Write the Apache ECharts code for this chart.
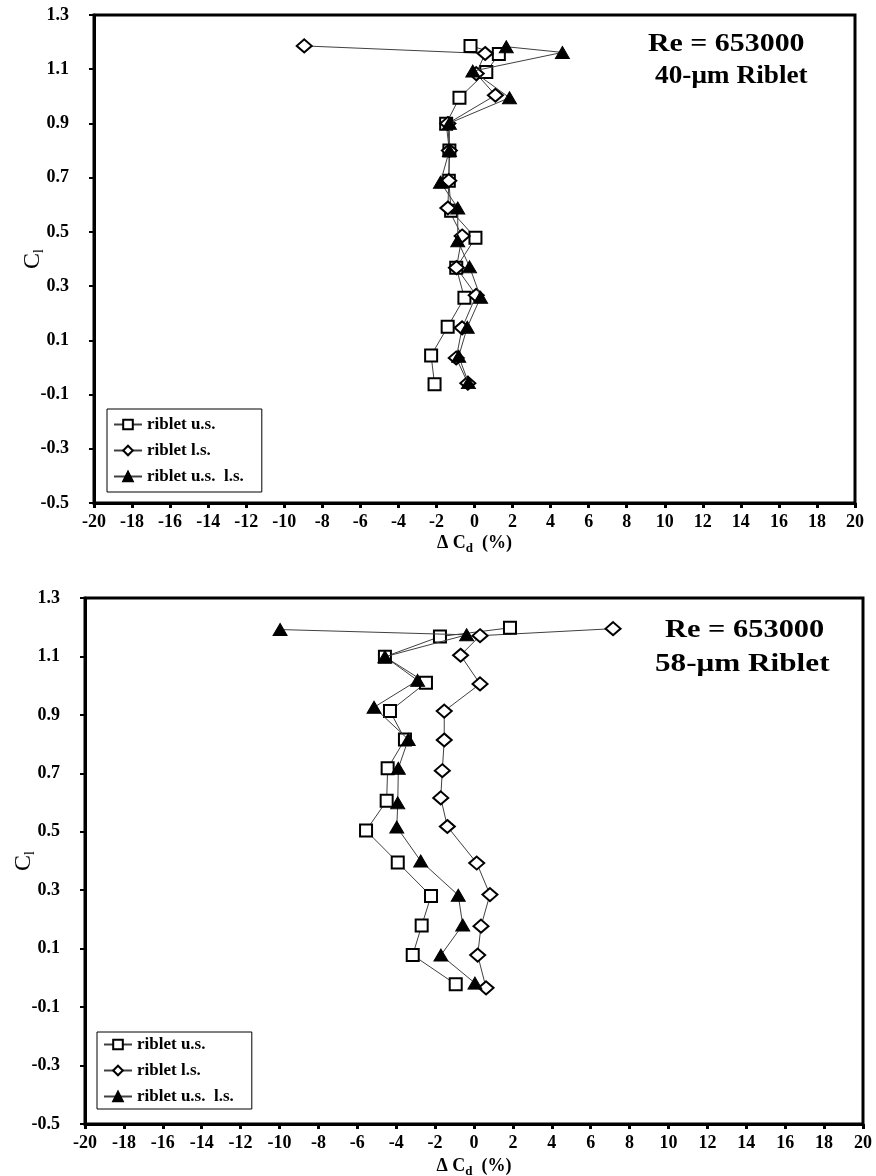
<!DOCTYPE html>
<html>
<head>
<meta charset="utf-8">
<script src="https://cdn.jsdelivr.net/npm/echarts@6/dist/echarts.min.js"></script>
<style>
html,body{margin:0;padding:0;background:#fff;}
#c{width:876px;height:1176px;}
</style>
</head>
<body>
<div id="c"></div>
<script>
// ---- data (ΔCd %, Cl) ----
var seriesNames = ['riblet u.s.', 'riblet l.s.', 'riblet u.s.  l.s.'];
var xTicks = [-20,-18,-16,-14,-12,-10,-8,-6,-4,-2,0,2,4,6,8,10,12,14,16,18,20];
var yTicks = [-0.5,-0.3,-0.1,0.1,0.3,0.5,0.7,0.9,1.1,1.3];

// 40-um riblet
var top_us = [[-0.21,1.186],[1.28,1.156],[0.62,1.09],[-0.79,0.995],[-1.49,0.899],[-1.32,0.80],[-1.35,0.689],[-1.23,0.578],[0.05,0.478],[-0.96,0.368],[-0.53,0.257],[-1.41,0.15],[-2.28,0.044],[-2.1,-0.062]];
var top_ls = [[-8.95,1.186],[0.56,1.158],[0.09,1.084],[1.1,1.004],[-1.4,0.9],[-1.32,0.8],[-1.35,0.689],[-1.4,0.588],[-0.65,0.485],[-0.95,0.368],[0.09,0.266],[-0.65,0.146],[-0.96,0.035],[-0.35,-0.058]];
var top_usls = [[1.67,1.183],[4.62,1.162],[-0.09,1.093],[1.84,0.995],[-1.32,0.901],[-1.32,0.80],[-1.79,0.683],[-0.88,0.588],[-0.88,0.467],[-0.26,0.371],[0.32,0.259],[-0.38,0.148],[-0.83,0.041],[-0.32,-0.056]];

// 58-um riblet
var bot_us = [[1.85,1.198],[-1.75,1.168],[-4.58,1.099],[-2.47,1.01],[-4.32,0.913],[-3.55,0.816],[-4.44,0.717],[-4.49,0.606],[-5.55,0.504],[-3.92,0.395],[-2.21,0.28],[-2.69,0.179],[-3.15,0.078],[-0.94,-0.022]];
var bot_ls = [[7.15,1.195],[0.31,1.171],[-0.69,1.104],[0.31,1.006],[-1.53,0.913],[-1.53,0.814],[-1.63,0.709],[-1.71,0.616],[-1.37,0.518],[0.14,0.393],[0.82,0.285],[0.36,0.177],[0.19,0.078],[0.62,-0.034]];
var bot_usls = [[-9.97,1.192],[-0.38,1.174],[-4.58,1.099],[-2.9,1.018],[-5.14,0.926],[-3.38,0.816],[-3.89,0.717],[-3.92,0.599],[-3.97,0.516],[-2.74,0.4],[-0.81,0.283],[-0.58,0.181],[-1.7,0.078],[0.05,-0.018]];

var titles = [['Re = 653000','40-\u03bcm Riblet'],['Re = 653000','58-\u03bcm Riblet']];

// ---- styling ----
var FONT = "'Liberation Serif','Times New Roman',serif";
var chart = echarts.init(document.getElementById('c'), null, {renderer:'canvas'});

function xAxisCfg(gi, gap){
  return {
    type:'value', gridIndex:gi, min:xTicks[0], max:xTicks[xTicks.length-1], interval:2,
    axisLine:{show:true, onZero:false, lineStyle:{color:'#000', width:3}},
    axisTick:{show:true, inside:false, length:5, lineStyle:{color:'#000', width:3}},
    axisLabel:{color:'#000', fontFamily:FONT, fontWeight:'bold', fontSize:18, margin:10},
    splitLine:{show:false},
    name:'{a|\u0394 C}{s|d}{a|  (%)}', nameLocation:'middle', nameGap:gap, nameMoveOverlap:false,
    nameTextStyle:{rich:{
      a:{fontFamily:FONT, fontWeight:'bold', fontSize:18, color:'#000'},
      s:{fontFamily:FONT, fontWeight:'bold', fontSize:13, color:'#000', padding:[10,0,0,0]}
    }}
  };
}
function yAxisCfg(gi, gap){
  return {
    type:'value', gridIndex:gi, min:yTicks[0], max:yTicks[yTicks.length-1], interval:0.2,
    axisLine:{show:true, onZero:false, lineStyle:{color:'#000', width:3}},
    axisTick:{show:true, inside:false, length:5, lineStyle:{color:'#000', width:2}},
    axisLabel:{color:'#000', fontFamily:FONT, fontWeight:'bold', fontSize:18, margin:25,
      formatter:function(v){return (Math.round(v*10)/10).toFixed(1);}},
    splitLine:{show:false},
    name:'{a|C}{s|l}', nameLocation:'middle', nameGap:gap, nameRotate:90, nameMoveOverlap:false,
    nameTextStyle:{rich:{
      a:{fontFamily:FONT, fontSize:24, color:'#000'},
      s:{fontFamily:FONT, fontSize:14, color:'#000', padding:[12,0,0,0]}
    }}
  };
}
function mk(name, data, gi, sym){
  var hollow = sym !== 'triangle';
  var size = sym==='rect'?12:(sym==='diamond'?[15,13]:[14,12]);
  return {
    name:name, type:'line', xAxisIndex:gi, yAxisIndex:gi, data:data,
    symbol:sym, symbolSize:size, showAllSymbol:true, animation:false,
    lineStyle:{color:'#404040', width:1},
    itemStyle:{color: hollow?'#fff':'#000', borderColor:'#000', borderWidth: hollow?2:1},
    z: sym==='triangle'?4:3
  };
}
function legendCfg(left, top, pad){
  return {
    data:seriesNames, orient:'vertical', left:left, top:top,
    backgroundColor:'#fff', borderColor:'#000', borderWidth:1,
    padding:pad, itemGap:9, itemWidth:28, itemHeight:12,
    textStyle:{fontFamily:FONT, fontWeight:'bold', fontSize:17, color:'#000'},
    selectedMode:false
  };
}
function txt(x, y, s, sx){
  return {type:'text', x:x, y:y, scaleX:sx, z:10,
    style:{text:s, font:"bold 26px 'Liberation Serif','Times New Roman',serif", fill:'#000'}};
}

var option = {
  backgroundColor:'#fff',
  animation:false,
  grid:[
    {left:94, top:15, width:761, height:488, show:true, borderColor:'#000', borderWidth:3, backgroundColor:'transparent', containLabel:false, outerBoundsMode:'none'},
    {left:85, top:598, width:778, height:526, show:true, borderColor:'#000', borderWidth:3, backgroundColor:'transparent', containLabel:false, outerBoundsMode:'none'}
  ],
  xAxis:[xAxisCfg(0, 29), xAxisCfg(1, 31)],
  yAxis:[yAxisCfg(0, 48), yAxisCfg(1, 48)],
  legend:[legendCfg(107, 409, [7,18,7,6]), legendCfg(97, 1032, [4,18,4,6])],
  series:[
    mk(seriesNames[0], top_us, 0, 'rect'),
    mk(seriesNames[1], top_ls, 0, 'diamond'),
    mk(seriesNames[2], top_usls, 0, 'triangle'),
    mk(seriesNames[0], bot_us, 1, 'rect'),
    mk(seriesNames[1], bot_ls, 1, 'diamond'),
    mk(seriesNames[2], bot_usls, 1, 'triangle')
  ],
  graphic:[
    txt(648, 31, titles[0][0], 1.15),
    txt(655, 63, titles[0][1], 1.05),
    txt(665, 617, titles[1][0], 1.17),
    txt(655, 651, titles[1][1], 1.2)
  ]
};
chart.setOption(option);
</script>
</body>
</html>
